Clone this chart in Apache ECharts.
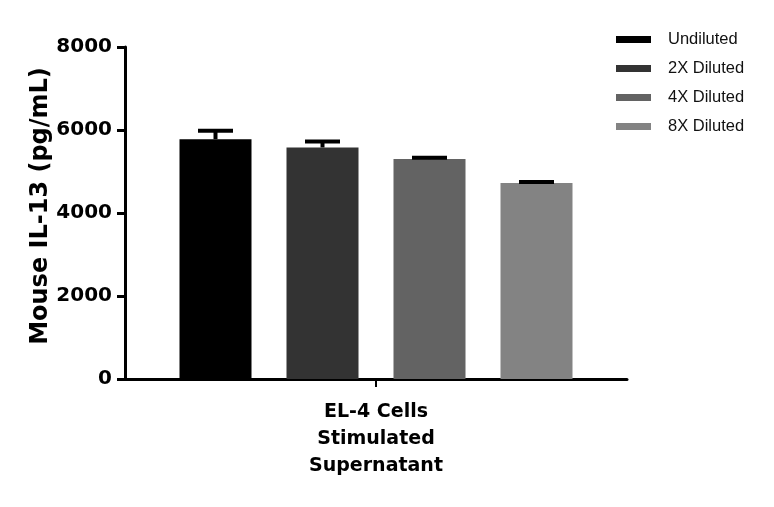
<!DOCTYPE html>
<html>
<head>
<meta charset="utf-8">
<script src="https://cdn.jsdelivr.net/npm/echarts@6/dist/echarts.min.js"></script>
<style>
  html, body { margin: 0; padding: 0; background: #fff; }
  #chart { width: 774px; height: 507px; }
</style>
</head>
<body>
<div id="chart"></div>
<script>
var category = ['EL-4 Cells\nStimulated\nSupernatant']
var seriesNames = ['Undiluted', '2X Diluted', '4X Diluted', '8X Diluted']
var colors = ['#000000', '#333333', '#636363', '#838383']
var means = [5780, 5580, 5300, 4720]
var errors = [200, 145, 30, 30]
var yTicks = [0, 2000, 4000, 6000, 8000]

var barWidth = 72
var barGap = 35
var fontFace = 'DejaVu Sans'

var series = []
for (var i = 0; i < seriesNames.length; i++) {
    series.push({
        name: seriesNames[i],
        type: 'bar',
        barWidth: barWidth,
        barGap: (barGap / barWidth * 100) + '%',
        itemStyle: { color: colors[i] },
        data: [means[i]],
        z: 2
    })
}

// upper error bars, positioned like the bars above
var errData = []
for (var j = 0; j < means.length; j++) {
    errData.push([0, means[j], means[j] + errors[j], j])
}
series.push({
    type: 'custom',
    name: 'err',
    z: 3,
    renderItem: function (params, api) {
        var idx = api.value(3)
        var center = api.coord([api.value(0), 0])
        var off = (idx - (means.length - 1) / 2) * (barWidth + barGap)
        var x = center[0] + off
        var y0 = api.coord([0, api.value(1)])[1]
        var y1 = api.coord([0, api.value(2)])[1]
        var style = { stroke: '#000', lineWidth: 4 }
        var children = [
            { type: 'line', shape: { x1: x, y1: y0, x2: x, y2: y1 }, style: style },
            { type: 'line', shape: { x1: x - 17.5, y1: y1, x2: x + 17.5, y2: y1 }, style: style }
        ]
        // category tick under the axis, drawn once
        if (idx === 0) {
            var base = api.coord([api.value(0), 0])
            children.push({ type: 'line', shape: { x1: base[0], y1: base[1] + 1, x2: base[0], y2: base[1] + 8 },
                style: { stroke: '#000', lineWidth: 2 } })
        }
        return { type: 'group', children: children }
    },
    data: errData
})

var option = {
    backgroundColor: '#fff',
    animation: false,
    grid: { left: 125, right: 147, top: 47, bottom: 128 },
    legend: {
        data: seriesNames,
        orient: 'vertical',
        left: 611,
        top: 26,
        itemWidth: 35,
        itemHeight: 7,
        itemGap: 12,
        icon: 'rect',
        textStyle: { fontFamily: 'Liberation Sans', fontSize: 16.5, color: '#111', padding: [0, 0, 0, 12] }
    },
    xAxis: {
        type: 'category',
        data: category,
        axisLine: { lineStyle: { color: '#000', width: 3 } },
        axisTick: { show: false },
        axisLabel: {
            fontFamily: fontFace, fontWeight: 'bold', fontSize: 19, color: '#000',
            lineHeight: 27, margin: 20
        }
    },
    yAxis: {
        type: 'value',
        min: yTicks[0],
        max: yTicks[yTicks.length - 1],
        interval: yTicks[1] - yTicks[0],
        name: 'Mouse IL-13 (pg/mL)',
        nameLocation: 'middle',
        nameGap: 72,
        nameMoveOverlap: false,
        nameTextStyle: { fontFamily: fontFace, fontWeight: 'bold', fontSize: 24, color: '#000', padding: [0, 0, 0, 14] },
        splitLine: { show: false },
        axisLine: { show: true, lineStyle: { color: '#000', width: 3 } },
        axisTick: { show: true, length: 8, lineStyle: { color: '#000', width: 3 } },
        axisLabel: {
            fontFamily: fontFace, fontWeight: 'bold', fontSize: 20, color: '#000', margin: 13,
            formatter: function (v) { return String(v) }
        }
    },
    series: series
}

var chart = echarts.init(document.getElementById('chart'))
chart.setOption(option)
</script>
</body>
</html>
